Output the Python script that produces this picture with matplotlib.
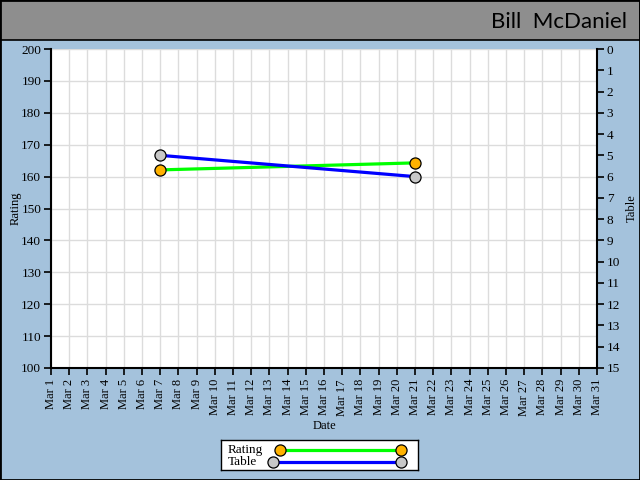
import matplotlib.pyplot as plt
from matplotlib.patches import Rectangle

# data
days = list(range(1, 32))
day_labels = ['Mar %d' % d for d in days]
point_days = [7, 21]
rating = [162.1, 164.3]
table = [5, 6]
series_names = ['Rating', 'Table']

BG = '#A4C2DC'
HEADER = '#8E8E8E'
plt.rcParams['font.family'] = ['Liberation Serif', 'DejaVu Serif']

rating_style = dict(color='#00FF00', linewidth=2.3, marker='o', markersize=8,
                    markerfacecolor='#FFB200', markeredgecolor='black', markeredgewidth=0.9)
table_style = dict(color='#0000FF', linewidth=2.3, marker='o', markersize=8,
                   markerfacecolor='#C8C8C8', markeredgecolor='black', markeredgewidth=0.9)

fig = plt.figure(figsize=(6.4, 4.8), dpi=100)
fig.patch.set_facecolor(BG)

# header band
fig.add_artist(Rectangle((0, 1 - 40 / 480), 1, 40 / 480, transform=fig.transFigure,
                         facecolor=HEADER, edgecolor='black', linewidth=1.2))
fig.add_artist(Rectangle((0, 0), 1, 1, transform=fig.transFigure,
                         facecolor='none', edgecolor='black', linewidth=2))
fig.text(627 / 640, 1 - 22 / 480, 'Bill  McDaniel', ha='right', va='center',
         fontsize=16, family='Lato', color='black')

ax = fig.add_axes([51 / 640, 1 - 368 / 480, 546 / 640, 319 / 480])
ax.set_facecolor('white')
ax.set_xlim(1, 31)
ax.set_ylim(100, 200)
ax.set_xticks(days)
ax.set_xticklabels(day_labels, rotation=90, fontsize=9)
ax.set_yticks(range(100, 201, 10))
ax.tick_params(axis='y', labelsize=9.5, direction='out', length=5, width=1.2, pad=2)
ax.tick_params(axis='x', direction='out', length=5, width=1.2, pad=3)
ax.grid(True, color='#DCDCDC', linewidth=1)
ax.set_axisbelow(True)
for s in ['top', 'right']:
    ax.spines[s].set_visible(False)
for s in ['left', 'bottom']:
    ax.spines[s].set_linewidth(1.5)
ax.set_xlabel('Date', fontsize=9, labelpad=3)
ax.set_ylabel('Rating', fontsize=9, labelpad=0)

ax2 = ax.twinx()
ax2.set_ylim(15, 0)
ax2.set_yticks(range(0, 16))
ax2.tick_params(axis='y', labelsize=9.5, direction='out', length=5, width=1.2, pad=2)
for s in ['top', 'left', 'bottom']:
    ax2.spines[s].set_visible(False)
ax2.spines['right'].set_linewidth(1.5)
ax2.set_ylabel('Table', fontsize=9, labelpad=4)

ax.plot(point_days, rating, zorder=3, **rating_style)
ax2.plot(point_days, table, zorder=3, **table_style)

# legend box drawn in its own pixel-sized axes
lg = fig.add_axes([221 / 640, 1 - 470 / 480, 197 / 640, 30 / 480])
lg.set_xlim(0, 197)
lg.set_ylim(30, 0)
lg.set_xticks([])
lg.set_yticks([])
for s in lg.spines.values():
    s.set_linewidth(1)
for i, (name, style, x0) in enumerate(zip(series_names, [rating_style, table_style], [59, 52])):
    yy = 10 + i * 12
    lg.text(7, yy, name, fontsize=9.5, va='center', ha='left')
    lg.plot([x0, 180], [yy, yy], clip_on=False, **style)

fig.savefig('out.png', dpi=100, facecolor=BG)
